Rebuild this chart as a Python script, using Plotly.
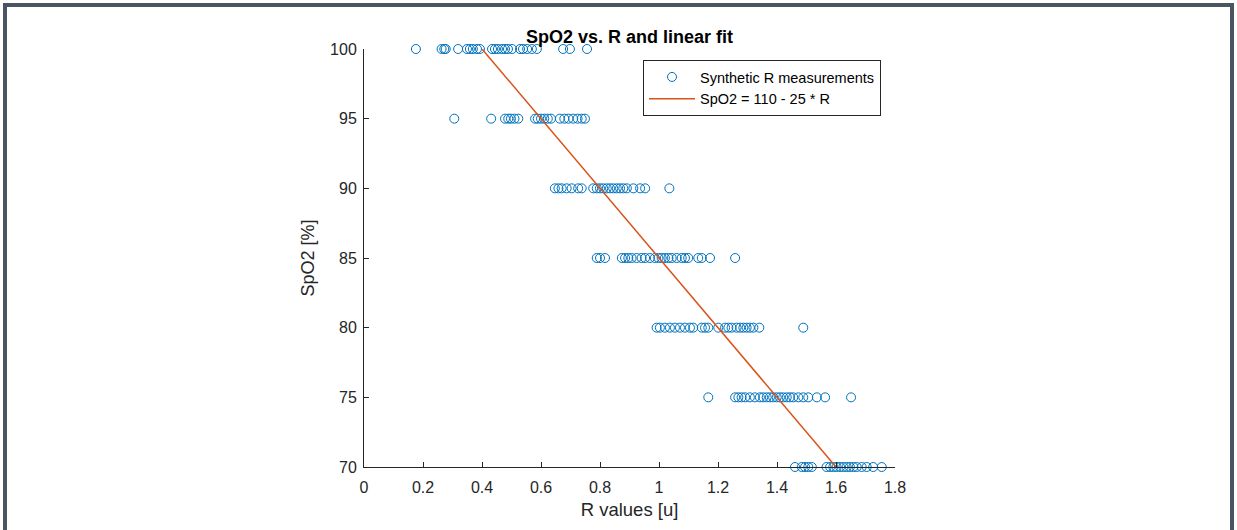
import plotly.graph_objects as go

# R values for each SpO2 level
r_at_100 = [0.176, 0.263, 0.272, 0.277, 0.319, 0.349, 0.359, 0.369, 0.383, 0.393,
            0.434, 0.444, 0.454, 0.468, 0.478, 0.488, 0.502, 0.529, 0.539, 0.553,
            0.569, 0.586, 0.675, 0.698, 0.756]
r_at_95 = [0.306, 0.431, 0.478, 0.489, 0.498, 0.510, 0.523, 0.580, 0.589, 0.600,
           0.611, 0.623, 0.634, 0.664, 0.679, 0.693, 0.709, 0.724, 0.738, 0.749]
r_at_90 = [0.647, 0.659, 0.670, 0.687, 0.704, 0.726, 0.738, 0.777, 0.789, 0.800,
           0.811, 0.823, 0.834, 0.845, 0.857, 0.868, 0.879, 0.891, 0.913, 0.936,
           0.953, 1.035]
r_at_85 = [0.789, 0.800, 0.817, 0.874, 0.885, 0.896, 0.907, 0.924, 0.941, 0.953,
           0.969, 0.986, 0.998, 1.009, 1.020, 1.032, 1.043, 1.060, 1.077, 1.088,
           1.099, 1.133, 1.145, 1.173, 1.258]
r_at_80 = [0.992, 1.003, 1.020, 1.037, 1.054, 1.071, 1.088, 1.105, 1.116, 1.145,
           1.156, 1.167, 1.201, 1.224, 1.235, 1.246, 1.263, 1.275, 1.286, 1.297,
           1.308, 1.320, 1.340, 1.489]
r_at_75 = [1.167, 1.258, 1.269, 1.280, 1.292, 1.308, 1.325, 1.342, 1.353, 1.365,
           1.376, 1.387, 1.399, 1.410, 1.421, 1.433, 1.444, 1.455, 1.472, 1.489,
           1.506, 1.535, 1.563, 1.651]
r_at_70 = [1.461, 1.484, 1.495, 1.506, 1.518, 1.568, 1.580, 1.591, 1.602, 1.614,
           1.625, 1.636, 1.647, 1.659, 1.670, 1.687, 1.704, 1.726, 1.755]

spo2_levels = [100, 95, 90, 85, 80, 75, 70]
r_groups = [r_at_100, r_at_95, r_at_90, r_at_85, r_at_80, r_at_75, r_at_70]

# linear fit SpO2 = 110 - 25 * R
fit_r = [0.4, 1.6]
fit_spo2 = [100, 70]

x_ticks = [0, 0.2, 0.4, 0.6, 0.8, 1.0, 1.2, 1.4, 1.6, 1.8]
y_ticks = [70, 75, 80, 85, 90, 95, 100]

meas_r, meas_s = [], []
for lvl, grp in zip(spo2_levels, r_groups):
    meas_r += grp
    meas_s += [lvl] * len(grp)

W, H = 1237, 530
L, R, T, B = 364, 342, 49, 63
PW, PH = W - L - R, H - T - B

def px(x):
    return (x - L) / PW

def py(y):
    return (H - B - y) / PH

FONT = "Liberation Sans, Arial, sans-serif"
AX = "#262626"

fig = go.Figure()
fig.add_trace(go.Scatter(
    x=meas_r, y=meas_s, mode="markers", name="Synthetic R measurements",
    marker=dict(symbol="circle-open", size=9, color="#0072BD", line=dict(width=1, color="#0072BD")),
    cliponaxis=False,
))
fig.add_trace(go.Scatter(
    x=fit_r, y=fit_spo2, mode="lines", name="SpO2 = 110 - 25 * R",
    line=dict(color="#D95319", width=1.5), cliponaxis=False,
))

border = "#4a5561"
shapes = [
    dict(type="rect", xref="paper", yref="paper", x0=px(3), x1=px(7), y0=py(H + 5), y1=py(3),
         fillcolor=border, line=dict(width=0), layer="above"),
    dict(type="rect", xref="paper", yref="paper", x0=px(1230), x1=px(1234), y0=py(H + 5), y1=py(3),
         fillcolor=border, line=dict(width=0), layer="above"),
    dict(type="rect", xref="paper", yref="paper", x0=px(3), x1=px(1234), y0=py(7), y1=py(3),
         fillcolor=border, line=dict(width=0), layer="above"),
]

fig.update_layout(
    width=W, height=H,
    margin=dict(l=L, r=R, t=T, b=B, pad=0),
    paper_bgcolor="white", plot_bgcolor="white",
    font=dict(family=FONT, size=16, color=AX),
    title=dict(text="<b>SpO2 vs. R and linear fit</b>", x=0.5, xref="paper", xanchor="center",
               y=1, yref="paper", yanchor="bottom", pad=dict(b=6),
               font=dict(family=FONT, size=18, color="black")),
    xaxis=dict(range=[0, 1.8], tickvals=x_ticks, ticktext=[f"{v:g}" for v in x_ticks],
               showgrid=False, zeroline=False, showline=True, linecolor=AX, linewidth=1,
               ticks="inside", ticklen=5, tickcolor=AX, tickfont=dict(size=16),
               ticklabelstandoff=6,
               title=dict(text="R values [u]", font=dict(size=18.5), standoff=7)),
    yaxis=dict(range=[70, 100], tickvals=y_ticks,
               showgrid=False, zeroline=False, showline=True, linecolor=AX, linewidth=1,
               ticks="inside", ticklen=5, tickcolor=AX, tickfont=dict(size=16),
               ticklabelstandoff=3,
               title=dict(text="SpO2 [%]", font=dict(size=18), standoff=10)),
    legend=dict(x=px(643), y=py(60), xanchor="left", yanchor="top",
                bgcolor="white", bordercolor=AX, borderwidth=1, itemwidth=46,
                font=dict(size=14.5, color="black"), tracegroupgap=0),
    showlegend=True,
    shapes=shapes,
)

fig.write_html("out.html")
